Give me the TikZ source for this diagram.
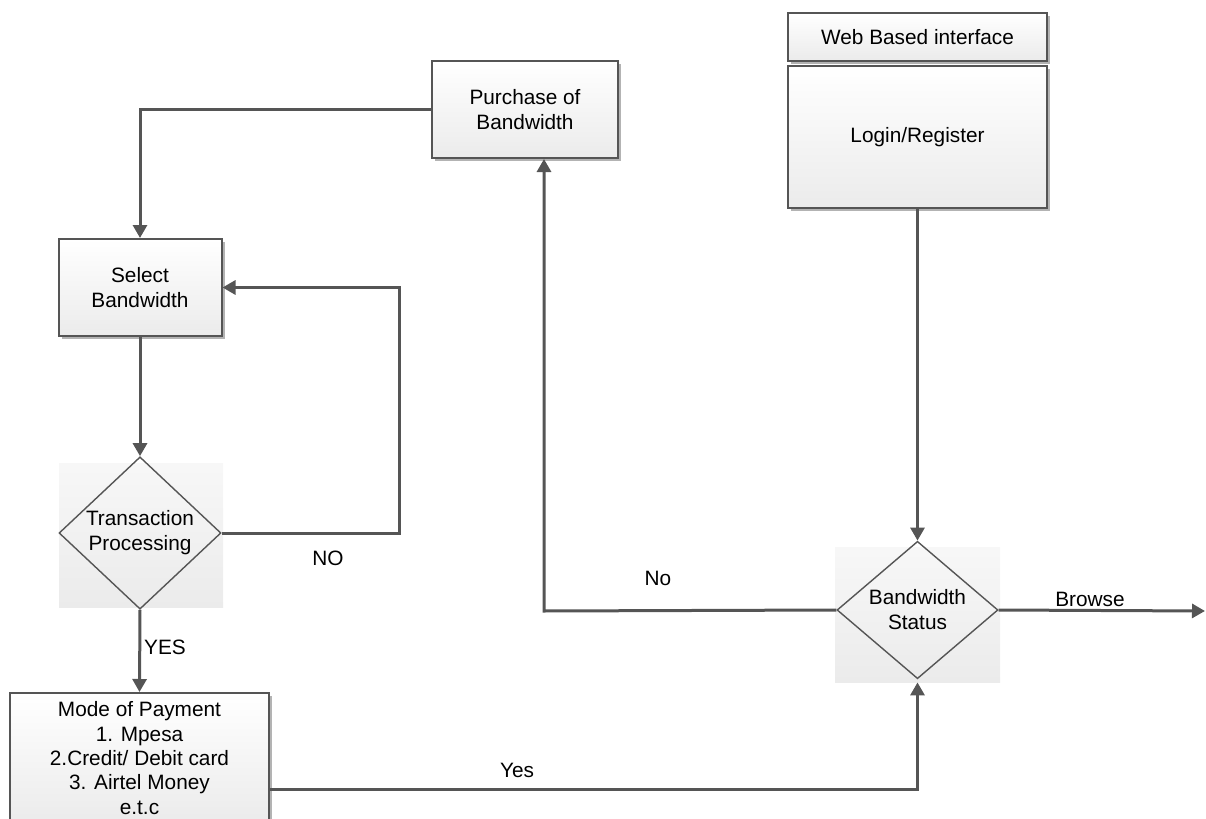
\documentclass[tikz,border=0pt]{standalone}
\usepackage{fontspec}
\setmainfont{Liberation Sans}
\usepackage{tikz}
\usetikzlibrary{shapes.geometric}
\usetikzlibrary{shadows}
\usetikzlibrary{positioning}
\usetikzlibrary{arrows.meta}

\definecolor{linegray}{HTML}{555555}
\definecolor{fillgray}{HTML}{EBEBEB}

\begin{document}
\begin{tikzpicture}[x=0.5pt,y=-0.5pt,>={Triangle[length=6.5pt,width=7pt]},
	font=\fontsize{10.4}{12.5}\selectfont,
	box node/.style={rectangle,draw=linegray,line width=1pt,top color=white,bottom color=fillgray,
		drop shadow={shadow xshift=1.5pt,shadow yshift=-1.5pt,fill=gray,opacity=0.6},
		align=center,inner sep=0pt},
	decision back/.style={rectangle,top color=white!97!black,bottom color=fillgray,inner sep=0pt},
	decision node/.style={diamond,draw=linegray,line width=0.7pt,align=center,inner sep=0pt},
	flow/.style={->,draw=linegray,line width=1.5pt}]
	
	\useasboundingbox (0,0) rectangle (1206,819);
	
	% boxes
	\node[box node,minimum width=93pt,minimum height=48.5pt] (purchase) at (525,109.5) {Purchase of\\Bandwidth};
	\node[box node,minimum width=129.5pt,minimum height=24pt] (web) at (917.5,37) {Web Based interface};
	\node[box node,minimum width=129.5pt,minimum height=71pt] (login) [below=1.5pt of web] {Login/Register};
	\node[box node,minimum width=81.5pt,minimum height=48.5pt] (select) at (140,287.5) {Select\\Bandwidth};
	\node[box node,minimum width=129.5pt,minimum height=65pt,font=\fontsize{10.4}{12.2}\selectfont] (mode) at (139.5,758)
		{Mode of Payment\\1. Mpesa\\2.Credit/ Debit card\\3. Airtel Money\\e.t.c};
	
	% decisions
	\node[decision back,minimum width=82pt,minimum height=72pt] (transback) at (141,535) {};
	\node[decision node,minimum width=81pt,minimum height=70pt] (trans) at (140,533) {Transaction\\Processing};
	\node[decision back,minimum width=82.5pt,minimum height=67.5pt] (bwback) at (917.5,614.5) {};
	\node[decision node,minimum width=80.5pt,minimum height=68pt] (bw) at (917.5,610) {Bandwidth\\Status};
	
	% connectors
	\coordinate (loop) at (399,533);
	\coordinate (yesturn) at (917.5,789);
	\coordinate (noturn) at (544,611);
	\coordinate (browseend) at (1205,611);
	
	\draw[flow] (purchase.west) -| (select.north);
	\draw[flow] (select.south) -- (trans.north);
	\draw[flow] (trans.east) -- (loop) |- (select.east);
	\draw[flow] (trans.south) -- (mode.north);
	\draw[flow] (mode.east |- yesturn) -- (yesturn) -- (bwback.south);
	\draw[flow] (login.south) -- (bw.north);
	\draw[flow] (bw.west) -- (noturn) -- (noturn |- purchase.south);
	\draw[flow] (bw.east) -- (browseend);
	
	% labels
	\node (lblNO) at (328,558) {NO};
	\node (lblYES) at (165,647) {YES};
	\node (lblYes) at (517,770) {Yes};
	\node (lblNo) at (658,578) {No};
	\node (lblBrowse) at (1090,599) {Browse};
\end{tikzpicture}
\end{document}
